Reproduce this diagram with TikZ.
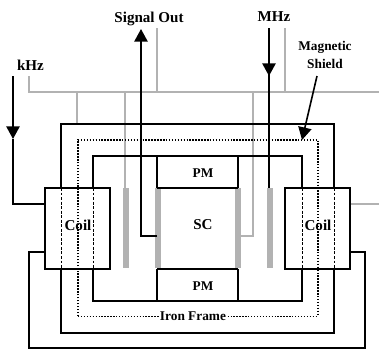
\documentclass[tikz,border=0pt]{standalone}
\usepackage{fontspec}
\setmainfont{Liberation Serif}
\usetikzlibrary{arrows.meta}
\definecolor{leadgray}{RGB}{178,178,178}
\tikzset{
    frameline/.style={black, line width=1.2pt},
    leadline/.style={leadgray, line width=1.2pt},
    shieldline/.style={black, line width=1.2pt, dash pattern=on 1.1pt off 1.1pt},
    coreline/.style={black, line width=0.7pt, dash pattern=on 2.2pt off 1.2pt},
    headline/.style={black, line width=1.2pt, -{Triangle[length=9.5pt,width=10pt]}},
    biglabel/.style={font=\fontsize{11.3}{12}\selectfont\bfseries, inner sep=0pt},
    smalllabel/.style={font=\fontsize{10}{12}\selectfont\bfseries, inner sep=0pt, align=center}
}
\begin{document}
\begin{tikzpicture}[x=0.75pt, y=-0.75pt]
            \useasboundingbox (0, 0) rectangle (379, 350);
            % gray leads
            \draw[leadline] (29, 76) -- (29, 92) -- (379, 92);
            \draw[leadline] (157, 28) -- (157, 92);
            \draw[leadline] (285, 28) -- (285, 92);
            \draw[leadline] (77, 92) -- (77, 124);
            \draw[leadline] (125, 92) -- (125, 188);
            \draw[leadline] (253, 92) -- (253, 236) -- (240, 236);
            \draw[leadline] (350, 204) -- (379, 204);
            % gray bars
            \foreach \i in {126, 158, 238, 270} {
                    \fill[leadgray] (\i - 3, 188) rectangle (\i + 3, 268);
            }
            % iron frame, outer and inner
            \draw[frameline] (61, 188) -- (61, 124) -- (334, 124) -- (334, 188);
            \draw[frameline] (61, 269) -- (61, 333) -- (334, 333) -- (334, 269);
            \draw[frameline] (93, 188) -- (93, 156) -- (302, 156) -- (302, 188);
            \draw[frameline] (93, 269) -- (93, 301) -- (302, 301) -- (302, 269);
            % magnets and sc
            \draw[frameline] (157, 188) -- (157, 156);
            \draw[frameline] (238, 188) -- (238, 156);
            \draw[frameline] (157, 188) -- (238, 188);
            \draw[frameline] (157, 269) -- (238, 269);
            \draw[frameline] (157, 269) -- (157, 301);
            \draw[frameline] (238, 269) -- (238, 301);
            % shield
            \draw[shieldline] (78, 316) -- (78, 140) -- (318, 140) -- (318, 316);
            \draw[black, line width=0.55pt, dash pattern=on 1pt off 1.2pt] (78, 316) -- (318, 316);
            % coils
            \draw[frameline] (45, 188) rectangle (110, 269);
            \draw[frameline] (285, 188) rectangle (350, 269);
            \foreach \i in {61, 93, 302, 334} {
                    \draw[coreline] (\i, 188) -- (\i, 269);
            }
            % coil wires
            \draw[frameline] (13, 139) -- (13, 204) -- (45, 204);
            \draw[headline] (13, 76) -- (13, 139);
            \draw[frameline] (45, 252) -- (29, 252) -- (29, 348) -- (365, 348) -- (365, 252) -- (350, 252);
            % signal and rf lines
            \draw[headline] (141, 236) -- (141, 29);
            \draw[frameline] (157, 236) -- (141, 236) -- (141, 200);
            \draw[frameline] (269, 70) -- (269, 188);
            \draw[headline] (269, 28) -- (269, 76);
            % labels
            \node[biglabel] (signal) at (149, 18.5) {Signal Out};
            \node[biglabel] (mhz) at (274, 17) {MHz};
            \node[biglabel] (khz) at (30.5, 65) {kHz};
            \node[smalllabel] (shield) at (325, 54.5) {Magnetic\\[1.5pt]Shield};
            \node[biglabel] (coilleft) at (78, 225) {Coil};
            \node[biglabel] (coilright) at (318, 225) {Coil};
            \node[smalllabel] (pmtop) at (203, 173) {PM};
            \node[biglabel] (sc) at (203, 225) {SC};
            \node[smalllabel] (pmbottom) at (203, 286) {PM};
            \node[smalllabel, fill=white, inner xsep=1pt] (iron) at (193, 316) {Iron Frame};
            \draw[headline] (317, 76) -- (302, 140);
    \end{tikzpicture}
\end{document}
